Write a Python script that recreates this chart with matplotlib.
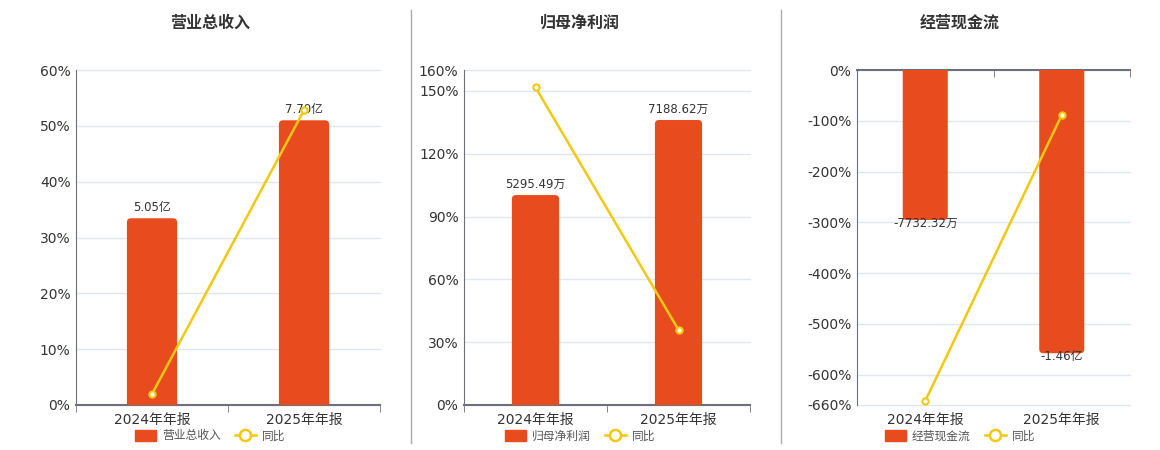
import matplotlib
matplotlib.use("Agg")
import matplotlib.pyplot as plt
from matplotlib.patches import Patch, FancyBboxPatch
from matplotlib.lines import Line2D

plt.rcParams['font.family'] = ['DejaVu Sans', 'Noto Sans CJK SC']

categories = ['2024年年报', '2025年年报']

titles = ['营业总收入', '归母净利润', '经营现金流']

rev_values = [5.05, 7.70]          # 亿
rev_labels = ['5.05亿', '7.70亿']
rev_yoy = [1.97, 52.8]             # %

np_values = [5295.49, 7188.62]     # 万
np_labels = ['5295.49万', '7188.62万']
np_yoy = [151.7, 35.9]

cf_values = [-7732.32, -14600.0]   # 万
cf_labels = ['-7732.32万', '-1.46亿']
cf_yoy = [-652.0, -88.7]

rev_ticks = [0, 10, 20, 30, 40, 50, 60]
np_ticks = [0, 30, 60, 90, 120, 150, 160]
cf_ticks = [0, -100, -200, -300, -400, -500, -600, -660]

BAR = '#E84C1E'
LINE = '#F2C811'
GRID = '#E0E6F1'
AXC = '#6E7079'
TXT = '#333333'

W, H = 1160, 450
fig = plt.figure(figsize=(W / 100, H / 100), dpi=100)

panels = [
    dict(title=titles[0], vals=rev_values, labels=rev_labels, yoy=rev_yoy, ticks=rev_ticks,
         ylim=(0, 60), bar_lim=(0, 9.06), rect=(76, 70, 380, 405), cx=210),
    dict(title=titles[1], vals=np_values, labels=np_labels, yoy=np_yoy, ticks=np_ticks,
         ylim=(0, 160), bar_lim=(0, 8450), rect=(464, 70, 750, 405), cx=580),
    dict(title=titles[2], vals=cf_values, labels=cf_labels, yoy=cf_yoy, ticks=cf_ticks,
         ylim=(-660, 0), bar_lim=(-17270, 0), rect=(857, 70, 1130, 405), cx=960),
]

x = list(range(len(categories)))

for p in panels:
    l, t, r, b = p['rect']
    pw, ph = r - l, b - t
    pos = [l / W, 1 - b / H, pw / W, ph / H]
    ax = fig.add_axes(pos)
    ax.set_xlim(-0.5, 1.5)
    ax.set_ylim(*p['ylim'])
    ax.set_yticks(p['ticks'])
    ax.set_yticklabels([f'{v}%' for v in p['ticks']])
    ax.grid(axis='y', color=GRID, linewidth=1)
    for gl in ax.get_ygridlines():
        gl.set_clip_on(False)
    ax.set_axisbelow(True)
    for s in ['top', 'right', 'bottom', 'left']:
        ax.spines[s].set_visible(False)
    ax.spines['left'].set_visible(True)
    ax.spines['left'].set_color(AXC)
    neg = p['ylim'][1] <= 0
    side = 'top' if neg else 'bottom'
    ax.spines[side].set_visible(True)
    ax.spines[side].set_color(AXC)
    ax.spines[side].set_linewidth(1.5)
    ax.spines[side].set_zorder(5)
    ax.set_xticks(x)
    ax.set_xticklabels(categories)
    ax.set_xticks([-0.5, 0.5, 1.5], minor=True)
    ax.tick_params(axis='x', which='major', length=0, labelsize=10, labelcolor=TXT, pad=6)
    if neg:
        ax.tick_params(axis='x', which='minor', bottom=False, top=True, direction='in',
                       length=5, color=AXC)
    else:
        ax.tick_params(axis='x', which='minor', bottom=True, direction='out', length=5, color=AXC)
    ax.tick_params(axis='y', length=0, labelsize=10, labelcolor=TXT, pad=4)

    ax2 = ax.twinx()
    ax2.set_ylim(*p['bar_lim'])
    ax2.set_xlim(-0.5, 1.5)
    ax2.axis('off')
    bars = ax2.bar(x, p['vals'], width=0.33, color=BAR, zorder=2)
    # rounded outer corners (base extended past the axis edge and clipped)
    xu_per_px = 2.0 / pw
    yu_per_px = (p['bar_lim'][1] - p['bar_lim'][0]) / ph
    rad_px = 4
    for rect in bars:
        bx, by = rect.get_x(), rect.get_y()
        bw, bh = rect.get_width(), rect.get_height()
        ext = rad_px * 2 * yu_per_px
        if bh >= 0:
            y0, hh = by - ext, bh + ext
        else:
            y0, hh = by + bh, -bh + ext
        rect.set_visible(False)
        fp = FancyBboxPatch((bx, y0), bw, hh,
                            boxstyle=f'round,pad=0,rounding_size={rad_px * xu_per_px}',
                            mutation_aspect=yu_per_px / xu_per_px,
                            facecolor=BAR, edgecolor='none', zorder=2)
        ax2.add_patch(fp)
    for xi, v, lab in zip(x, p['vals'], p['labels']):
        if v >= 0:
            ax2.annotate(lab, (xi, v), xytext=(0, 3), textcoords='offset points',
                         ha='center', va='bottom', fontsize=8.5, color=TXT)
        else:
            ax2.annotate(lab, (xi, v), xytext=(0, 2), textcoords='offset points',
                         ha='center', va='top', fontsize=8.5, color=TXT)

    ax3 = ax.twinx()
    ax3.set_ylim(*p['ylim'])
    ax3.set_xlim(-0.5, 1.5)
    ax3.axis('off')
    ax3.plot(x, p['yoy'], color=LINE, linewidth=1.8, marker='o', markersize=4.5,
             markerfacecolor='white', markeredgecolor=LINE, markeredgewidth=1.5, zorder=3)

    fig.text(p['cx'] / W, 1 - 23 / H, p['title'], ha='center', va='center',
             fontsize=11.5, fontweight='bold', color=TXT)

    handles = [Patch(facecolor=BAR, edgecolor=BAR, label=p['title']),
               Line2D([0], [0], color=LINE, linewidth=1.8, marker='o', markersize=8,
                      markerfacecolor='white', markeredgecolor=LINE, markeredgewidth=1.8,
                      label='同比')]
    ax3.legend(handles=handles, loc='center', bbox_to_anchor=(p['cx'] / W, 1 - 436 / H),
               bbox_transform=fig.transFigure, ncol=2, frameon=False, fontsize=8.5,
               handlelength=1.8, handleheight=1.1, handletextpad=0.5, columnspacing=1.2,
               labelcolor='#555555', borderpad=0)

# separators
for xs in [410.5, 780.5]:
    fig.add_artist(Line2D([xs / W, xs / W], [1 - 10 / H, 1 - 443 / H], color='#AAAAAA',
                          linewidth=1, transform=fig.transFigure))

fig.savefig('out.png', dpi=100, facecolor='white')
